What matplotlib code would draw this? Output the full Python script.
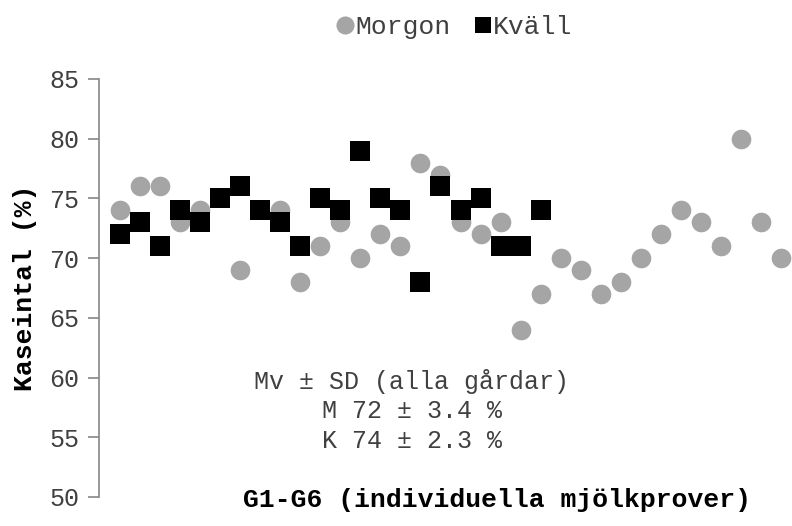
import numpy as np
import matplotlib
matplotlib.use("Agg")
import matplotlib.pyplot as plt
from matplotlib.lines import Line2D

nan = np.nan
# sample index 1..34
morgon = [74, 76, 76, 73, 74, nan, 69, nan, 74, 68, 71, 73, 70, 72, 71, 78, 77,
          73, 72, 73, 64, 67, 70, 69, 67, 68, 70, 72, 74, 73, 71, 80, 73, 70]
kvall = [72, 73, 71, 74, 73, 75, 76, 74, 73, 71, 75, 74, 79, 75, 74, 68, 76,
         74, 75, 71, 71, 74]
yticks = [50, 55, 60, 65, 70, 75, 80, 85]
series_names = ["Morgon", "Kväll"]
annot = ["Mv ± SD (alla gårdar)", "M 72 ± 3.4 %", "K 74 ± 2.3 %"]
xlabel = "G1-G6 (individuella mjölkprover)"
ylabel = "Kaseintal (%)"

plt.rcParams['font.family'] = ['Liberation Mono', 'DejaVu Sans Mono']

fig = plt.figure(figsize=(7.92, 5.26), dpi=100)
W, H = 792, 526
ax = fig.add_axes([99 / W, 29 / H, (W - 99) / W, (497 - 79) / H])

xm = np.arange(1, len(morgon) + 1)
xk = np.arange(1, len(kvall) + 1)
gray = '#A5A5A5'
ax.scatter(xm, morgon, s=200, marker='o', color=gray, linewidths=0, zorder=2)
ax.scatter(xk, kvall, s=200, marker='s', color='black', linewidths=0, zorder=3)

ax.set_ylim(50, 85)
ax.set_xlim(-0.05, 1 + (W - 120) / 20.03)
ax.set_yticks(yticks)
ax.set_xticks([])
for s in ['top', 'right', 'bottom']:
    ax.spines[s].set_visible(False)
ax.spines['left'].set_color('#868686')
ax.spines['left'].set_linewidth(1.2)
ax.tick_params(axis='y', direction='out', length=8, width=1.2, color='#868686',
               labelsize=18, labelcolor='#404040', pad=6)

fig.text(25 / W, 1 - 288 / H, ylabel, rotation=90, ha='center', va='center',
         fontsize=19, fontweight='bold', color='black')
fig.text(497 / W, 1 - 500 / H, xlabel, ha='center', va='center',
         fontsize=19, fontweight='bold', color='black')

for i, (t, yy) in enumerate(zip(annot, [381, 411, 441])):
    fig.text(412 / W, 1 - yy / H, t, ha='center', va='center', fontsize=18,
             color='#404040')

handles = [Line2D([], [], marker='o', color=gray, linestyle='none', markersize=13, markeredgewidth=0),
           Line2D([], [], marker='s', color='black', linestyle='none', markersize=12, markeredgewidth=0)]
leg = fig.legend(handles, series_names, loc='center', bbox_to_anchor=(455 / W, 1 - 27 / H),
                 ncol=2, frameon=False, fontsize=19, handlelength=0.6, handletextpad=0.1,
                 columnspacing=0.9, labelcolor='#404040')

fig.savefig('out.png', dpi=100)
